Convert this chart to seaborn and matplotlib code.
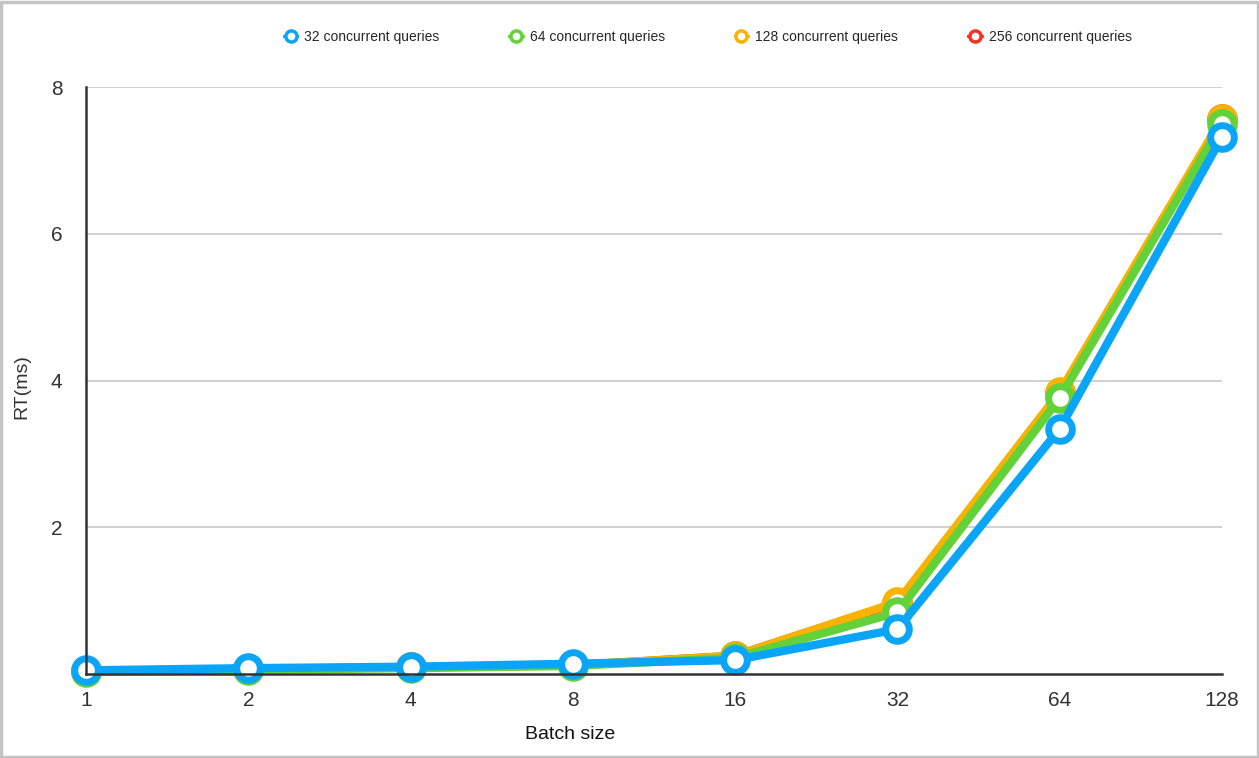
import matplotlib
matplotlib.use("Agg")
import matplotlib.pyplot as plt
import pandas as pd
import seaborn as sns
from matplotlib.patches import Rectangle

BATCH_SIZES = ["1", "2", "4", "8", "16", "32", "64", "128"]
SERIES = ["256 concurrent queries", "128 concurrent queries", "64 concurrent queries", "32 concurrent queries"]
RT_256 = [0.04, 0.07, 0.09, 0.12, 0.25, 0.97, 3.83, 7.56]
RT_128 = [0.04, 0.07, 0.09, 0.12, 0.25, 0.98, 3.84, 7.57]
RT_64 = [0.03, 0.06, 0.08, 0.11, 0.22, 0.84, 3.76, 7.50]
RT_32 = [0.05, 0.08, 0.10, 0.14, 0.19, 0.61, 3.34, 7.32]
COLORS = ["#F5331F", "#F8B200", "#62D13A", "#0AA5F7"]
LEGEND_ORDER = ["32 concurrent queries", "64 concurrent queries", "128 concurrent queries", "256 concurrent queries"]
Y_TICKS = [2, 4, 6, 8]


def build_frame() -> pd.DataFrame:
    rows = []
    for name, vals in zip(SERIES, [RT_256, RT_128, RT_64, RT_32]):
        for b, v in zip(BATCH_SIZES, vals):
            rows.append({"batch": b, "rt": v, "series": name})
    return pd.DataFrame(rows)


def main() -> None:
    sns.set_theme(style="white")
    plt.rcParams["font.family"] = ["Liberation Sans", "DejaVu Sans"]

    df = build_frame()
    fig = plt.figure(figsize=(12.59, 7.58), dpi=100)
    ax = fig.add_axes([0.0683, 0.1108, 0.9023, 0.7744])

    sns.lineplot(
        data=df, x="batch", y="rt", hue="series", hue_order=SERIES,
        palette=COLORS, marker="o", markersize=17, markerfacecolor="white",
        markeredgewidth=5, linewidth=6, sort=False, ax=ax, legend=False,
        clip_on=False,
    )
    for line, c in zip(ax.lines, COLORS):
        line.set_markeredgecolor(c)

    ax.set_xlim(0, len(BATCH_SIZES) - 1)
    ax.set_ylim(0, 8)
    ax.set_yticks(Y_TICKS)
    ax.yaxis.grid(True, color="#c8c8c8", linewidth=1.2)
    ax.set_axisbelow(True)
    for side in ["top", "right"]:
        ax.spines[side].set_visible(False)
    ax.spines["left"].set_color("#333333")
    ax.spines["left"].set_linewidth(1.8)
    ax.spines["bottom"].set_color("#333333")
    ax.spines["bottom"].set_linewidth(1.8)
    ax.tick_params(axis="both", length=0, labelsize=15, colors="#333333")
    ax.tick_params(axis="y", pad=17)
    ax.tick_params(axis="x", pad=12)
    ax.set_xlabel("Batch size", fontsize=14, color="#111111")
    ax.set_ylabel("RT(ms)", fontsize=14, color="#333333")
    ax.xaxis.set_label_coords(0.426, -0.088)
    ax.yaxis.set_label_coords(-0.049, 0.49)

    # legend in the order shown at the top of the chart
    handles = []
    for name in LEGEND_ORDER:
        c = COLORS[SERIES.index(name)]
        (h,) = ax.plot([], [], marker="o", color=c, markerfacecolor="white",
                       markeredgecolor=c, markersize=8, markeredgewidth=2.5, linewidth=2.5)
        handles.append(h)
    fig.legend(handles, LEGEND_ORDER, loc="center", bbox_to_anchor=(0.562, 0.951), ncol=4,
               frameon=False, fontsize=10, handlelength=1.0, columnspacing=5.0,
               handletextpad=0.5)

    fig.patches.append(Rectangle((0.001, 0.001), 0.998, 0.997, transform=fig.transFigure,
                                 fill=False, edgecolor="#c4c4c4", linewidth=2.5))
    fig.savefig("out.png", dpi=100)
    plt.close(fig)


if __name__ == "__main__":
    main()
